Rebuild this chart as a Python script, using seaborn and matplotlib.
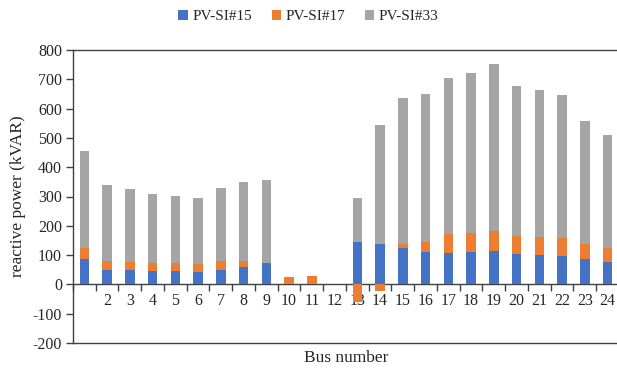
import numpy as np
import matplotlib
matplotlib.use("Agg")
import matplotlib.pyplot as plt
import seaborn as sns
from matplotlib.patches import Patch

# ---- data ----
bus = list(range(1, 25))
tick_labels = [""] + [str(b) for b in range(2, 25)]
pv15 = [85, 50, 48, 45, 45, 43, 50, 58, 74, 0, 0, 0,
        144, 137, 125, 112, 108, 110, 115, 104, 102, 98, 85, 78]
pv17 = [39, 31, 30, 29, 27, 27, 30, 22, 0, 25, 28, 0,
        -60, -23, 13, 32, 63, 65, 68, 62, 60, 60, 52, 47]
pv33 = [330, 257, 246, 236, 228, 225, 250, 268, 283, 0, 0, 0,
        151, 407, 498, 506, 533, 545, 569, 511, 500, 489, 420, 386]
series_names = ["PV-SI#15", "PV-SI#17", "PV-SI#33"]
colors = ["#4472C4", "#ED7D31", "#A5A5A5"]
y_ticks = list(range(-200, 801, 100))

sns.set_theme(style="white")
plt.rcParams["font.family"] = ["Liberation Serif", "DejaVu Serif"]
plt.rcParams["axes.unicode_minus"] = False

fig = plt.figure(figsize=(6.17, 3.7), dpi=100)
ax = fig.add_axes([73 / 617, 1 - 343 / 370, (619 - 73) / 617, (343 - 50) / 370])

a15 = np.array(pv15, dtype=float)
a17 = np.array(pv17, dtype=float)
a33 = np.array(pv33, dtype=float)
bottoms = [np.zeros_like(a15),
           np.where(a17 >= 0, a15, 0.0),
           a15 + np.maximum(a17, 0.0)]

for vals, bot, col in zip([a15, a17, a33], bottoms, colors):
    sns.barplot(x=bus, y=vals, bottom=bot, native_scale=True, width=0.41,
                color=col, saturation=1, errorbar=None, linewidth=0, ax=ax)

ax.set_xlim(0.5, 24.5)
ax.set_ylim(-200, 800)
ax.set_yticks(y_ticks)
ax.tick_params(axis="x", bottom=False, labelbottom=False)
ax.tick_params(axis="y", left=True, direction="out", length=5, width=1,
               color="#404040", labelsize=11.5, pad=3)
for s in ["left", "top", "bottom"]:
    ax.spines[s].set_color("#404040")
    ax.spines[s].set_linewidth(1)
ax.spines["right"].set_visible(False)
ax.set_xlabel("Bus number", fontsize=12.5, labelpad=5)
ax.set_ylabel("reactive power (kVAR)", fontsize=12.5, labelpad=5)

# category axis drawn at zero
sec = ax.secondary_xaxis(0.2)
sec.set_xticks(bus, labels=tick_labels)
sec.set_xticks(np.arange(0.5, 25, 1), minor=True)
sec.tick_params(which="major", length=0, pad=6, labelsize=11.5)
sec.tick_params(which="minor", length=5, width=1, direction="out", color="#404040")
sec.spines["bottom"].set_color("#404040")
sec.spines["bottom"].set_linewidth(1)

handles = [Patch(facecolor=c, edgecolor="none", label=n) for c, n in zip(colors, series_names)]
fig.legend(handles=handles, loc="upper center", bbox_to_anchor=(0.5, 1.01), ncol=3,
           frameon=False, fontsize=11, handlelength=0.6, handleheight=0.6,
           handletextpad=0.3, columnspacing=1.3)

fig.savefig("out.png", dpi=100)
